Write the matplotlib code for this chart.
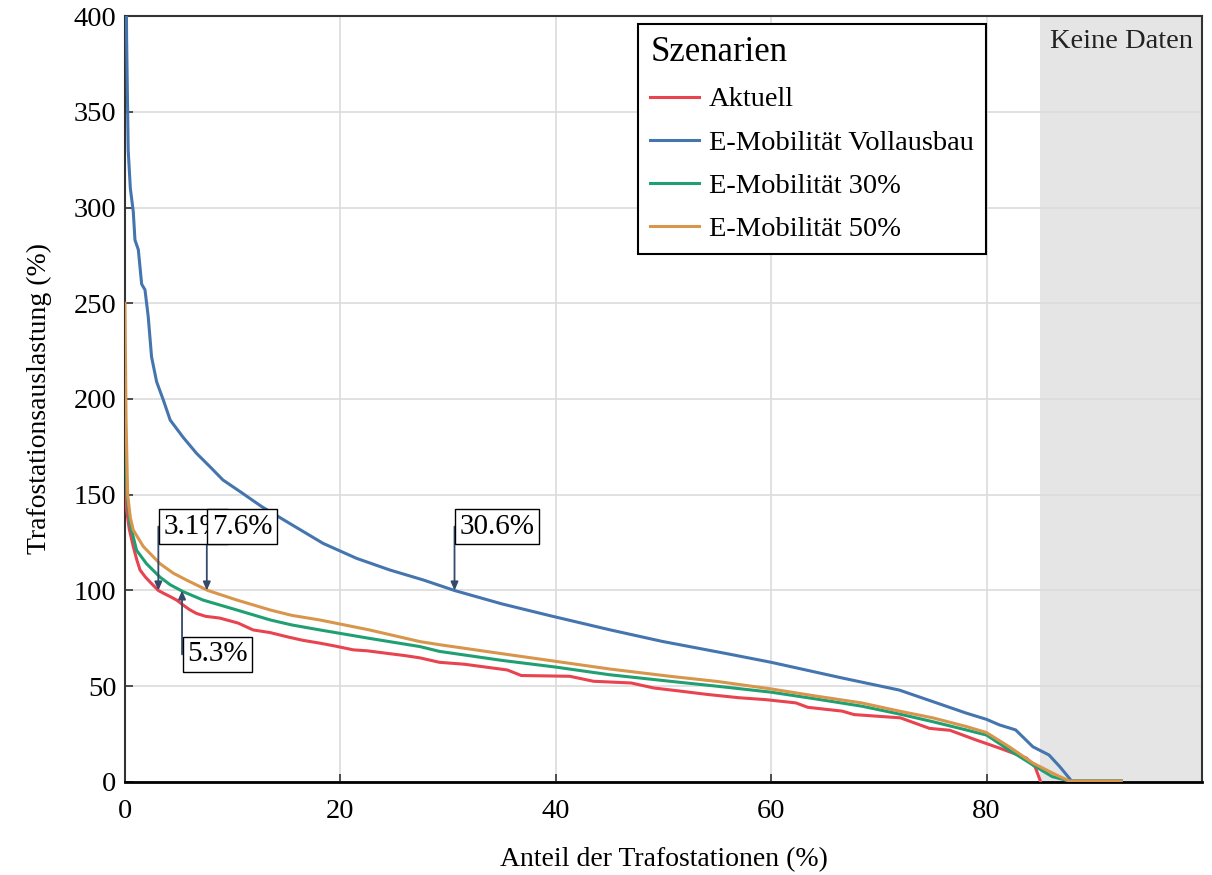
import matplotlib
matplotlib.use('Agg')
import matplotlib.pyplot as plt

plt.rcParams['font.family'] = ['Liberation Serif', 'DejaVu Serif']

# values
x_aktuell = [0, 0.16, 0.4, 0.77, 1.1, 1.4, 1.9, 2.3, 3.1, 3.6, 4.2, 4.8, 5.4, 6.0, 6.65, 7.5, 8.8, 10.5, 11.9, 13.5,
             15.0, 16.5, 18.1, 19.5, 21.2, 22.5, 24.3, 26.0, 27.4, 29.2, 31.5, 33.5, 35.5, 36.8, 41.3, 43.5, 47.0, 49.1, 51.5, 54.1,
             57.0, 59.5, 62.3, 63.4, 66.6, 67.7, 72.0, 74.7, 76.6, 79.0, 81.2, 83.7, 84.5, 85.0]
y_aktuell = [160, 142, 132, 123, 116, 110.7, 107, 104.6, 100, 98.5, 96.8, 95, 92.4, 90, 88, 86.5, 85.6, 83, 79.4, 78,
             75.9, 74, 72.5, 71, 69, 68.5, 67.2, 66, 64.8, 62.5, 61.5, 60, 58.5, 55.6, 55.2, 52.6, 51.7, 49.1, 47.5, 45.7,
             44, 43, 41.3, 39, 37, 35.2, 33.5, 28, 27, 22, 17.7, 12.5, 8, 0.5]

x_voll = [0, 0.15, 0.3, 0.5, 0.77, 0.93, 1.24, 1.55, 1.86, 2.16, 2.47, 2.94, 3.56, 4.2, 5.4, 6.65, 7.9, 9.1, 10.7, 12.7,
          15.3, 18.4, 21.5, 24.6, 27.7, 30.6, 35.0, 39.5, 45.0, 49.9, 55.9, 60.0, 66.6, 71.9, 75.0, 78.1, 80.0, 81.2, 82.7, 84.3,
          85.8, 86.8, 87.9, 92.5]
y_voll = [520, 390, 330, 310, 298, 283, 278, 260, 257, 243, 222, 209, 199.5, 189, 180, 171.6, 164.6, 157.7, 151.6, 143.8,
          135, 124.6, 116.8, 110.7, 105.5, 100, 93, 86.8, 79.5, 73.4, 67, 62.5, 54.3, 48, 42, 36, 32.7, 29.8, 27.2, 18.4,
          14.1, 8, 0.5, 0.5]

x_30 = [0, 0.2, 0.46, 1.08, 2.0, 3.25, 4.2, 5.4, 7.25, 10.4, 13.5, 15.5, 18.1, 22.7, 27.4, 29.2, 35.0, 40.0, 45.0, 50.6,
        55.0, 60.0, 64.0, 68.4, 71.9, 75.0, 78.1, 80.0, 82.1, 84.3, 86.1, 87.7, 92.5]
y_30 = [180, 150, 135, 121, 114, 107, 103, 99.4, 95, 89.8, 84.6, 82, 79.4, 75, 70.7, 68.2, 63.5, 60, 56, 52.6,
        50, 46.9, 43.5, 39.6, 35.5, 31.5, 27.2, 24.5, 16.7, 8.9, 2.8, 0.5, 0.5]

x_50 = [0, 0.1, 0.25, 0.5, 0.77, 1.7, 3.25, 4.5, 5.7, 7.7, 10.4, 13.5, 15.5, 18.1, 22.7, 27.4, 29.2, 35.0, 40.0, 45.0,
        50.6, 55.0, 60.0, 64.0, 68.4, 71.9, 75.0, 78.1, 80.0, 82.1, 84.3, 86.5, 87.7, 92.5]
y_50 = [250, 190, 150, 138, 131.6, 123, 114, 109, 105.5, 100, 95, 89.8, 87, 84.6, 79.4, 73.3, 71.7, 67, 63, 59,
        55.2, 52.5, 48.6, 45, 41.3, 37, 33.5, 29, 25.8, 18.4, 9.9, 3.6, 0.5, 0.5]

scenario_names = ['Aktuell', 'E-Mobilität Vollausbau', 'E-Mobilität 30%', 'E-Mobilität 50%']
scenario_colors = ['#e8434f', '#4475ae', '#20a072', '#d8954c']

# annotated crossings at 100 %
ann_labels = ['3.1%', '7.6%', '30.6%', '5.3%']
ann_x = [3.1, 7.6, 30.6, 5.3]
ann_y = [100, 100, 100, 100]
ann_above = [True, True, True, False]

no_data_start = 85

fig = plt.figure(figsize=(12.12, 8.75), dpi=100)
ax = fig.add_axes([0.1031, 0.1063, 0.8886, 0.8754])

ax.axvspan(no_data_start, 100, color='#e5e5e5', zorder=0.5, lw=0)
ax.text((no_data_start + 100) / 2, 393, 'Keine Daten', ha='center', va='top', fontsize=20.5, color='#222222')

series = [(x_aktuell, y_aktuell), (x_voll, y_voll), (x_30, y_30), (x_50, y_50)]
for (xs, ys), name, col in zip(series, scenario_names, scenario_colors):
    ax.plot(xs, ys, color=col, lw=2.2, label=name, zorder=3)

arrow_col = '#34496b'
for lab, xa, ya, above in zip(ann_labels, ann_x, ann_y, ann_above):
    dy = 46 if above else -46
    # vertical arrow from the middle of the box's left edge to the point
    ax.annotate('', xy=(xa, ya), xytext=(0, dy), textcoords='offset points', zorder=4,
                arrowprops=dict(arrowstyle='-|>,head_length=0.5,head_width=0.22', color=arrow_col,
                                lw=1.3, shrinkA=0, shrinkB=0))
    ax.annotate(lab, xy=(xa, ya), xytext=(3.5, dy), textcoords='offset points',
                ha='left', va='center', fontsize=21, zorder=5,
                bbox=dict(boxstyle='square,pad=0.15', fc='white', ec='black', lw=1.0))

ax.set_xlim(0, 100)
ax.set_ylim(0, 400)
ax.set_xticks([0, 20, 40, 60, 80])
ax.set_yticks(range(0, 401, 50))
ax.grid(True, color='#dcdcdc', lw=1.2, zorder=0)
ax.set_axisbelow(True)
ax.tick_params(axis='both', direction='in', length=6, width=1.2, color='#333333', labelsize=20.5)
ax.tick_params(axis='x', pad=12)
ax.tick_params(axis='y', pad=6)
for side in ['left', 'bottom', 'top', 'right']:
    ax.spines[side].set_color('#333333')
    ax.spines[side].set_linewidth(1.5)
ax.spines['bottom'].set_color('black')
ax.spines['bottom'].set_linewidth(2)

ax.set_xlabel('Anteil der Trafostationen (%)', fontsize=20)
ax.set_ylabel('Trafostationsauslastung (%)', fontsize=20)
ax.xaxis.set_label_coords(0.5, -0.085)
ax.yaxis.set_label_coords(-0.068, 0.5)

leg = ax.legend(title='Szenarien', loc='upper left', bbox_to_anchor=(0.476, 0.99), borderaxespad=0,
                fontsize=20.5, title_fontsize=25, frameon=True, fancybox=False, edgecolor='black',
                handlelength=1.7, handletextpad=0.35, labelspacing=0.6, borderpad=0.45)
leg.get_frame().set_linewidth(1.5)
leg.get_frame().set_alpha(1)
leg._legend_box.align = 'left'
leg.set_zorder(6)

fig.savefig('out.png', dpi=100)
